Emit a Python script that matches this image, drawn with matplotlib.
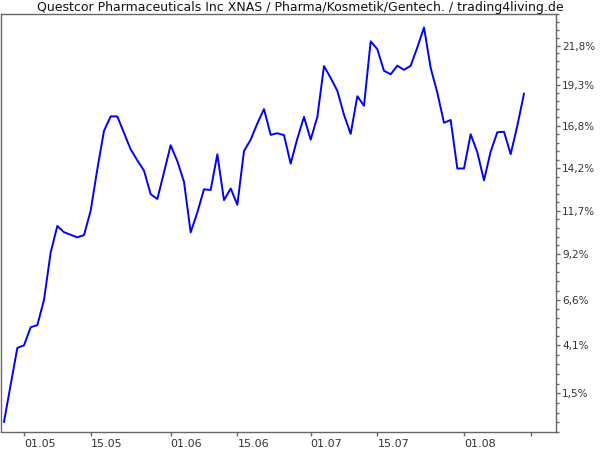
import numpy as np
import matplotlib
matplotlib.use('Agg')
import matplotlib.pyplot as plt

# performance in percent, one value per trading day (starting 26.04)
perf = [0.0, 1.96, 3.95, 4.09, 5.08, 5.20, 6.60, 9.28, 10.81, 10.45,
        10.30, 10.15, 10.28, 11.70, 14.16, 16.48, 17.36, 17.36, 16.35, 15.35,
        14.69, 14.07, 12.67, 12.39, 13.97, 15.60, 14.64, 13.40, 10.44, 11.60,
        12.96, 12.92, 15.05, 12.32, 13.01, 12.05, 15.25, 15.94, 16.93, 17.81,
        16.23, 16.33, 16.21, 14.49, 16.00, 17.33, 15.94, 17.33, 20.50, 19.75,
        18.95, 17.46, 16.29, 18.61, 18.02, 22.07, 21.57, 20.20, 19.98, 20.52,
        20.26, 20.52, 21.68, 22.96, 20.38, 18.83, 16.97, 17.14, 14.20, 14.20,
        16.27, 15.17, 13.49, 15.22, 16.39, 16.42, 15.06, 16.79, 18.77]

# x tick positions (trading day index) and labels
date_pos = [3, 13, 25, 35, 46, 56, 69, 79]
date_labels = ['01.05', '15.05', '01.06', '15.06', '01.07', '15.07', '01.08', '']

# y ticks as shown on the right axis
pct_ticks = [1.5, 4.1, 6.6, 9.2, 11.7, 14.2, 16.8, 19.3, 21.8]

title = 'Questcor Pharmaceuticals Inc XNAS / Pharma/Kosmetik/Gentech. / trading4living.de'


def fwd(p):
    return np.log1p(np.asarray(p, dtype=float) / 100.0)


def inv(v):
    return np.expm1(np.asarray(v, dtype=float)) * 100.0


def plot_chart():
    plt.rcParams['font.family'] = ['DejaVu Sans']
    fig = plt.figure(figsize=(6, 4.5), dpi=100)
    ax = fig.add_axes([1 / 600, 1 - 432 / 450, 555 / 600, 418 / 450])

    x = np.arange(len(perf))
    ax.plot(x, perf, color='#0000ff', linewidth=1.4)

    ax.set_yscale('function', functions=(fwd, inv))
    ax.set_ylim(-0.12, 23.28)
    ax.set_xlim(-0.45, 82.8)

    # y axis on the right, with 4 minor ticks between majors
    ax.yaxis.tick_right()
    ax.set_yticks(pct_ticks)
    ax.set_yticklabels([f'{v:.1f}'.replace('.', ',') + '%' for v in pct_ticks])
    minor = []
    for a, b in zip([pct_ticks[0] - 2.54] + pct_ticks, pct_ticks + [pct_ticks[-1] + 2.54]):
        minor += list(np.linspace(a, b, 6)[1:-1])
    ax.set_yticks(minor, minor=True)

    ax.set_xticks(date_pos)
    ax.set_xticklabels(date_labels)
    plt.setp(ax.get_xticklabels(), ha='left')

    ax.tick_params(axis='both', which='major', colors='#666666',
                   labelcolor='#333333', length=3, width=1)
    ax.tick_params(axis='x', which='major', labelsize=8, pad=2)
    ax.tick_params(axis='y', which='major', labelsize=7.5, pad=1.5)
    ax.tick_params(axis='y', which='minor', length=2, width=1, colors='#666666')
    ax.tick_params(axis='x', which='minor', length=0)
    for s in ax.spines.values():
        s.set_color('#666666')
        s.set_linewidth(1)

    fig.text(0.5, 1 - 7 / 450, title, ha='center', va='center',
             fontsize=9, color='#111111')

    fig.savefig('out.png', dpi=100)


def main():
    plot_chart()


if __name__ == "__main__":
    main()
